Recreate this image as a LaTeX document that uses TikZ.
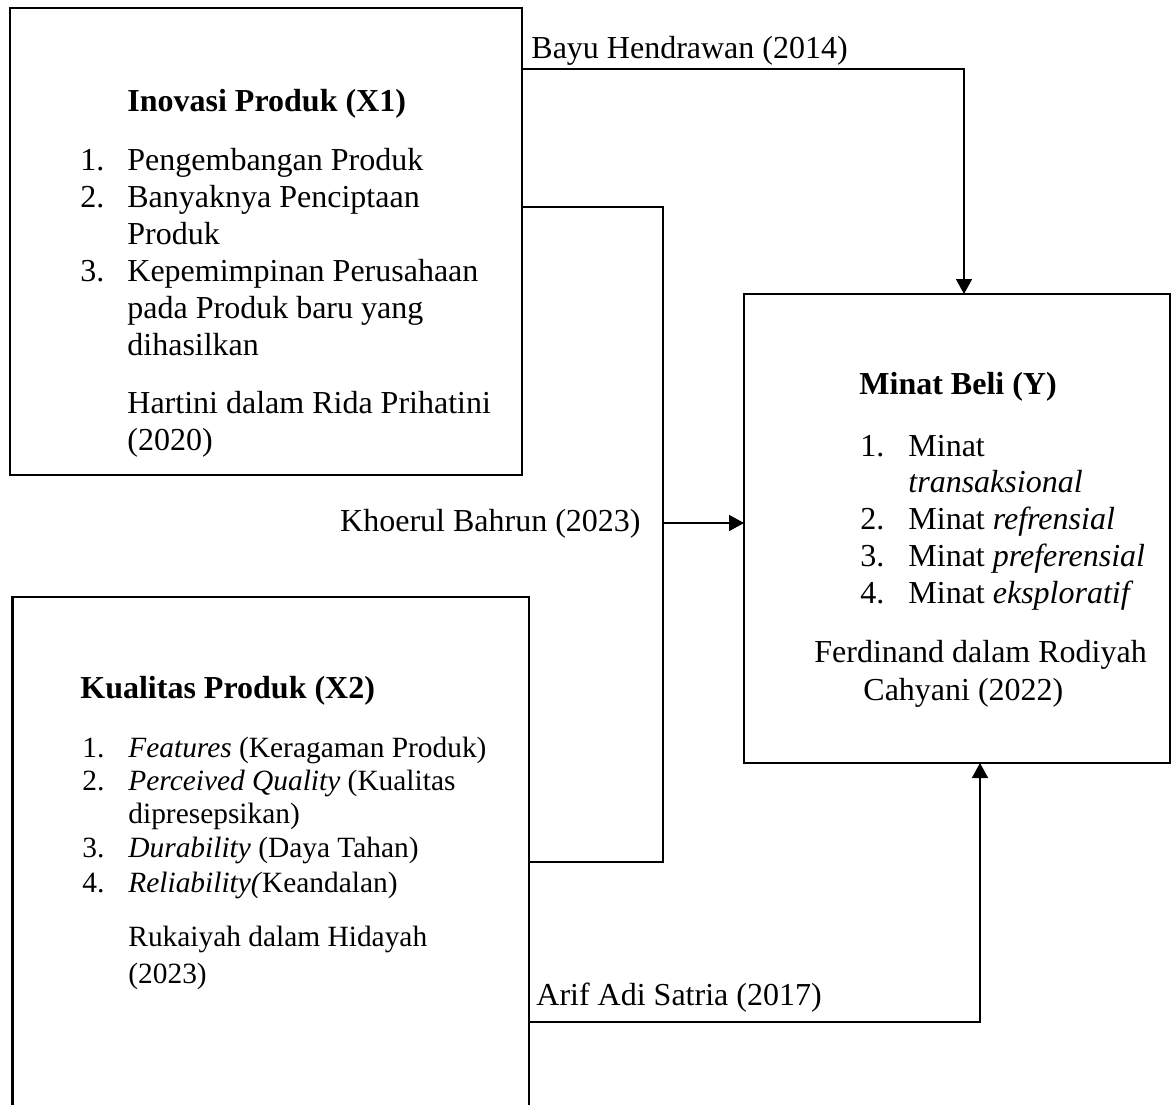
\documentclass[tikz,border=0pt]{standalone}
\usepackage{fontspec}
\setmainfont{Liberation Serif}
\usetikzlibrary{arrows.meta}
\begin{document}
\begin{tikzpicture}[x=0.5pt,y=-0.5pt,
  box/.style={draw, line width=1.1pt, inner sep=0pt, outer sep=0pt, anchor=north west},
  conn/.style={line width=0.8pt},
  arr/.style={conn, -{Triangle[length=7.5pt,width=8pt]}},
  ta/.style={font=\fontsize{16}{19}\selectfont, anchor=base west, inner sep=0pt},
  tab/.style={ta, font=\fontsize{16}{19}\selectfont\bfseries},
  tb/.style={font=\fontsize{14.7}{17}\selectfont, anchor=base west, inner sep=0pt},
]
\useasboundingbox (0,0) rectangle (1173,1104);
\clip (0,0) rectangle (1173,1104);

% boxes
\node[box, minimum width=256pt, minimum height=233.5pt] (x1) at (10,8) {};
\node[box, minimum width=258.25pt, minimum height=262pt] (x2) at (12.5,597) {};
\node[box, minimum width=213pt, minimum height=234.5pt] (y) at (744,294) {};

% X1 text
\node[tab] (x1title) at (127,111) {Inovasi Produk (X1)};
\node[ta] (x1n1) at (80,170) {1.};
\node[ta] (x1i1) at (127,170) {Pengembangan Produk};
\node[ta] (x1n2) at (80,207) {2.};
\node[ta] (x1i2a) at (127,207) {Banyaknya Penciptaan};
\node[ta] (x1i2b) at (127,244) {Produk};
\node[ta] (x1n3) at (80,281) {3.};
\node[ta] (x1i3a) at (127,281) {Kepemimpinan Perusahaan};
\node[ta] (x1i3b) at (127,318) {pada Produk baru yang};
\node[ta] (x1i3c) at (127,355) {dihasilkan};
\node[ta] (x1ref1) at (127,413) {Hartini dalam Rida Prihatini};
\node[ta] (x1ref2) at (127,450) {(2020)};

% X2 text
\node[tab] (x2title) at (80,698) {Kualitas Produk (X2)};
\node[tb] (x2n1) at (82,757) {1.};
\node[tb] (x2i1) at (128,757) {\textit{Features} (Keragaman Produk)};
\node[tb] (x2n2) at (82,790) {2.};
\node[tb] (x2i2a) at (128,790) {\textit{Perceived Quality} (Kualitas};
\node[tb] (x2i2b) at (128,823) {dipresepsikan)};
\node[tb] (x2n3) at (82,857) {3.};
\node[tb] (x2i3) at (128,857) {\textit{Durability} (Daya Tahan)};
\node[tb] (x2n4) at (82,892) {4.};
\node[tb] (x2i4) at (128,892) {\textit{Reliability(}Keandalan)};
\node[tb] (x2ref1) at (128,946) {Rukaiyah dalam Hidayah};
\node[tb] (x2ref2) at (128,983) {(2023)};

% Y text
\node[tab] (ytitle) at (859,394) {Minat Beli (Y)};
\node[ta] (yn1) at (860,456) {1.};
\node[ta] (yi1a) at (908,456) {Minat};
\node[ta] (yi1b) at (908,492) {\textit{transaksional}};
\node[ta] (yn2) at (860,529) {2.};
\node[ta] (yi2) at (908,529) {Minat \textit{refrensial}};
\node[ta] (yn3) at (860,566) {3.};
\node[ta] (yi3) at (908,566) {Minat \textit{preferensial}};
\node[ta] (yn4) at (860,603) {4.};
\node[ta] (yi4) at (908,603) {Minat \textit{eksploratif}};
\node[ta] (yref1) at (814,662) {Ferdinand dalam Rodiyah};
\node[ta] (yref2) at (863,700) {Cahyani (2022)};

% connectors
\coordinate (bayu) at (964,69);
\draw[arr] (bayu -| x1.east) -- (bayu) -- (bayu |- y.north);
\node[ta] (lbayu) at (531,58) {Bayu Hendrawan (2014)};

\coordinate (jt) at (663,207);
\coordinate (jb) at (663,862);
\coordinate (jm) at (663,523);
\draw[conn] (jt -| x1.east) -- (jt) -- (jb) -- (jb -| x2.east);
\draw[arr] (jm) -- (jm -| y.west);
\node[ta, anchor=base east] (lkho) at (641,531) {Khoerul Bahrun (2023)};

\coordinate (arif) at (980,1022);
\draw[arr] (arif -| x2.east) -- (arif) -- (arif |- y.south);
\node[ta] (larif) at (536,1005) {Arif Adi Satria (2017)};
\end{tikzpicture}
\end{document}
